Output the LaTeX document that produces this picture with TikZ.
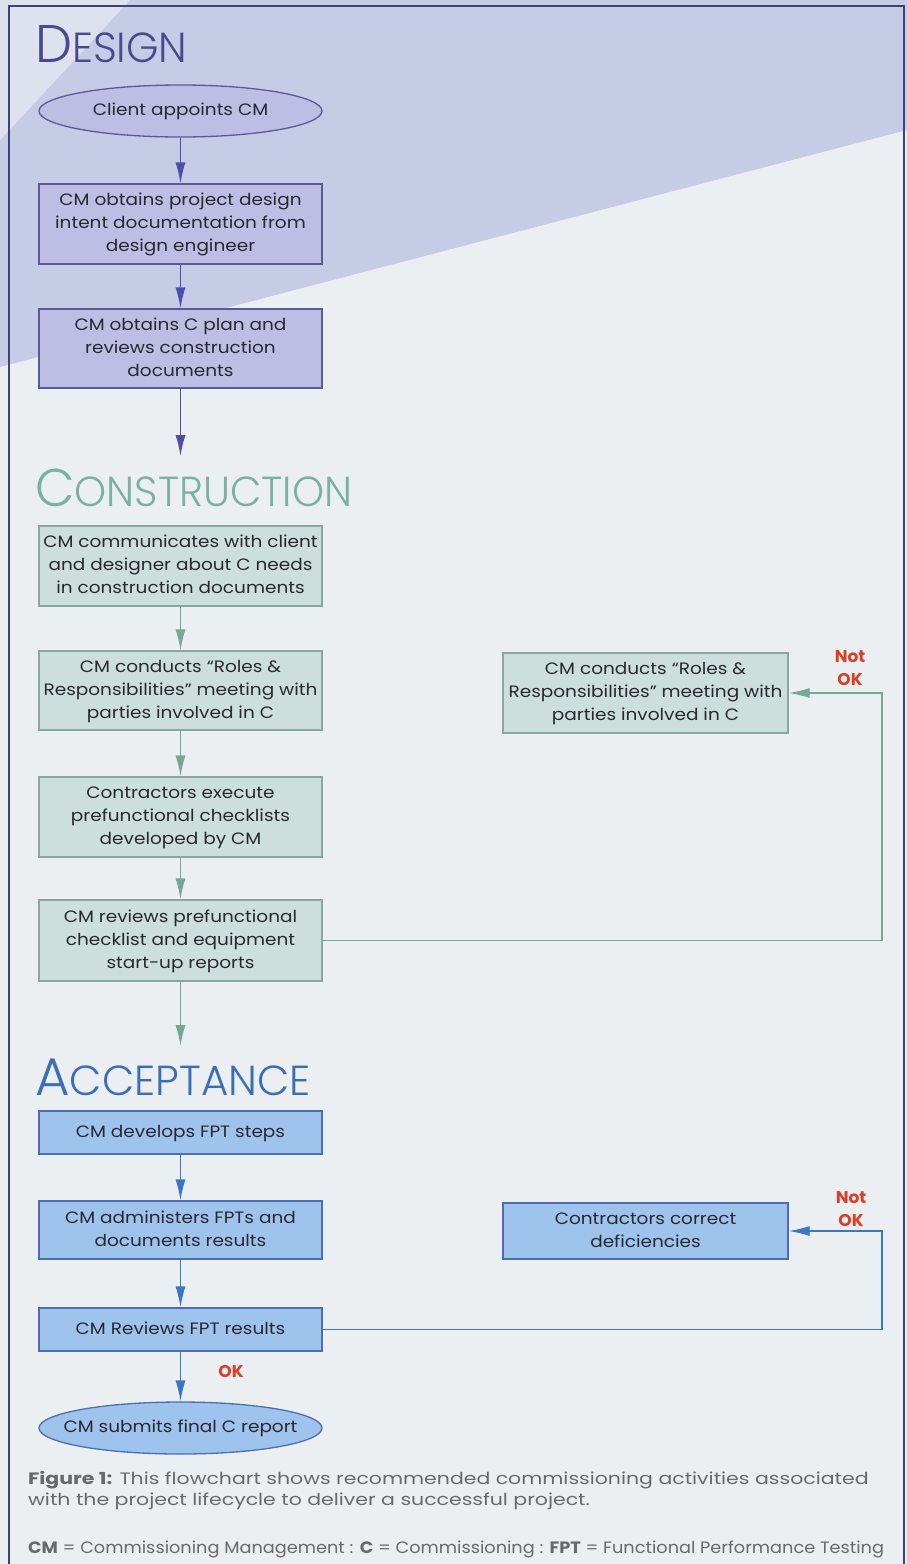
\documentclass[tikz,border=0pt]{standalone}
\usepackage{graphicx}
\usepackage{fontspec}
\setmainfont{Poppins}
\newfontfamily\hfont{Poppins Light}
\usetikzlibrary{arrows.meta,shapes.geometric}
\definecolor{bgc}{RGB}{235,239,242}
\definecolor{bandc}{RGB}{198,203,230}
\definecolor{lightc}{RGB}{222,226,238}
\definecolor{framec}{RGB}{62,66,122}
\definecolor{dfill}{RGB}{190,190,228}
\definecolor{ddraw}{RGB}{90,90,150}
\definecolor{dhead}{RGB}{72,74,140}
\definecolor{darr}{RGB}{78,80,168}
\definecolor{chead}{RGB}{122,178,162}
\definecolor{cfill}{RGB}{205,223,221}
\definecolor{cdraw}{RGB}{135,168,158}
\definecolor{carr}{RGB}{118,168,148}
\definecolor{ahead}{RGB}{60,110,182}
\definecolor{afill}{RGB}{158,195,236}
\definecolor{adraw}{RGB}{76,110,176}
\definecolor{aarr}{RGB}{58,118,200}
\definecolor{redc}{RGB}{220,62,42}
\definecolor{capc}{RGB}{105,105,108}
\definecolor{txtc}{RGB}{40,40,48}
\newcommand\bxt[2][1.12]{\scalebox{#1}[1]{\begin{tabular}{@{}c@{}}#2\end{tabular}}}
\begin{document}
\begin{tikzpicture}[x=1pt,y=-1pt,
  boxtext/.style={align=center,text=txtc,font=\fontsize{16.5}{23}\selectfont,inner sep=0pt},
  dbox/.style={boxtext,rectangle,draw=ddraw,fill=dfill,line width=1.3pt,minimum width=283pt},
  cbox/.style={boxtext,rectangle,draw=cdraw,fill=cfill,line width=1.3pt,minimum width=283pt},
  abox/.style={boxtext,rectangle,draw=adraw,fill=afill,line width=1.3pt,minimum width=283pt},
  dell/.style={boxtext,ellipse,draw=ddraw,fill=dfill,line width=1.3pt,minimum width=283pt,minimum height=52pt},
  aell/.style={boxtext,ellipse,draw=adraw,fill=afill,line width=1.3pt,minimum width=283pt,minimum height=52pt},
  darrow/.style={draw=darr,line width=1.3pt,-{Latex[length=21pt,width=10pt]}},
  carrow/.style={draw=carr,line width=1.3pt,-{Latex[length=21pt,width=10pt]}},
  aarrow/.style={draw=aarr,line width=1.3pt,-{Latex[length=21pt,width=10pt]}},
  hdr/.style={anchor=base west,inner sep=0pt,font=\hfont},
  redlab/.style={text=redc,font=\fontsize{17}{23}\selectfont\bfseries,align=center,inner sep=0pt},
  captext/.style={anchor=base west,inner sep=0pt,text=capc,font=\fontsize{16.5}{20}\selectfont}
]
\useasboundingbox (0,0) rectangle (907,1564);
\fill[bgc] (0,0) rectangle (907,1564);
\fill[bandc] (130,0) -- (907,0) -- (907,130) -- (0,367) -- (0,140) -- cycle;
\fill[lightc] (0,0) -- (130,0) -- (0,140) -- cycle;
\draw[framec,line width=2pt] (9,1570) -- (9,6) -- (904,6) -- (904,1570);

% headers
\node[hdr,text=dhead] (hd) at (35,62) {\scalebox{0.99}[1]{\fontsize{53}{53}\selectfont D\fontsize{42}{42}\selectfont ESIGN}};
\node[hdr,text=chead] (hc) at (35,506) {\scalebox{0.97}[1]{\fontsize{53}{53}\selectfont C\fontsize{42}{42}\selectfont ONSTRUCTION}};
\node[hdr,text=ahead] (ha) at (35,1095) {\scalebox{1.0}[1]{\fontsize{53}{53}\selectfont A\fontsize{42}{42}\selectfont CCEPTANCE}};

% design
\node[dell] (e1) at (180.5,111) {\makebox[0pt]{\bxt{Client appoints CM}}};
\node[dbox,minimum height=80pt] (d2) at (180.5,224) {\bxt{CM obtains project design\\intent documentation from\\design engineer}};
\node[dbox,minimum height=79pt] (d3) at (180.5,348.5) {\bxt{CM obtains C plan and\\reviews construction\\documents}};
\coordinate (dend) at (180.5,456);
\draw[darrow] (e1.south) -- (d2.north);
\draw[darrow] (d2.south) -- (d3.north);
\draw[darrow] (d3.south) -- (dend);

% construction
\node[cbox,minimum height=80pt] (c1) at (180.5,566) {\bxt{CM communicates with client\\and designer about C needs\\in construction documents}};
\node[cbox,minimum height=79pt] (c2) at (180.5,690.5) {\bxt{CM conducts “Roles \&\\Responsibilities” meeting with\\parties involved in C}};
\node[cbox,minimum height=80pt] (c3) at (180.5,817) {\bxt{Contractors execute\\prefunctional checklists\\developed by CM}};
\node[cbox,minimum height=81pt] (c4) at (180.5,940.5) {\bxt{CM reviews prefunctional\\checklist and equipment\\start-up reports}};
\node[cbox,minimum height=80pt,minimum width=285pt] (r1) at (645.5,693) {\bxt{CM conducts “Roles \&\\Responsibilities” meeting with\\parties involved in C}};
\node[redlab] (n1) at (850,668) {Not\\OK};
\coordinate (cend) at (180.5,1046);
\coordinate (cl1) at (882,940.5);
\coordinate (cl2) at (882,693);
\draw[carrow] (c1.south) -- (c2.north);
\draw[carrow] (c2.south) -- (c3.north);
\draw[carrow] (c3.south) -- (c4.north);
\draw[carrow] (c4.south) -- (cend);
\draw[carrow] (c4.east) -- (cl1) -- (cl2) -- (r1.east);

% acceptance
\node[abox,minimum height=43pt] (a1) at (180.5,1132.5) {\bxt{CM develops FPT steps}};
\node[abox,minimum height=58pt] (a2) at (180.5,1230) {\bxt{CM administers FPTs and\\documents results}};
\node[abox,minimum height=43pt] (a3) at (180.5,1329.5) {\bxt{CM Reviews FPT results}};
\node[aell] (a4) at (180.5,1428) {\makebox[0pt]{\bxt{CM submits final C report}}};
\node[abox,minimum height=56pt,minimum width=285pt] (r2) at (645.5,1231) {\bxt{Contractors correct\\deficiencies}};
\node[redlab] (n2) at (851,1209) {Not\\OK};
\node[redlab] (ok) at (231,1371) {OK};
\coordinate (al1) at (882,1329.5);
\coordinate (al2) at (882,1231);
\draw[aarrow] (a1.south) -- (a2.north);
\draw[aarrow] (a2.south) -- (a3.north);
\draw[aarrow] (a3.south) -- (a4.north);
\draw[aarrow] (a3.east) -- (al1) -- (al2) -- (r2.east);

% caption
\node[captext] (cap1) at (28,1484) {\scalebox{1.24}[1]{\textbf{Figure 1:} This flowchart shows recommended commissioning activities associated}};
\node[captext] (cap2) at (28,1505) {\scalebox{1.24}[1]{with the project lifecycle to deliver a successful project.}};
\node[captext] (foot) at (28,1553) {\scalebox{1.075}[1]{\textbf{CM} = Commissioning Management : \textbf{C} = Commissioning : \textbf{FPT} = Functional Performance Testing}};
\end{tikzpicture}
\end{document}
